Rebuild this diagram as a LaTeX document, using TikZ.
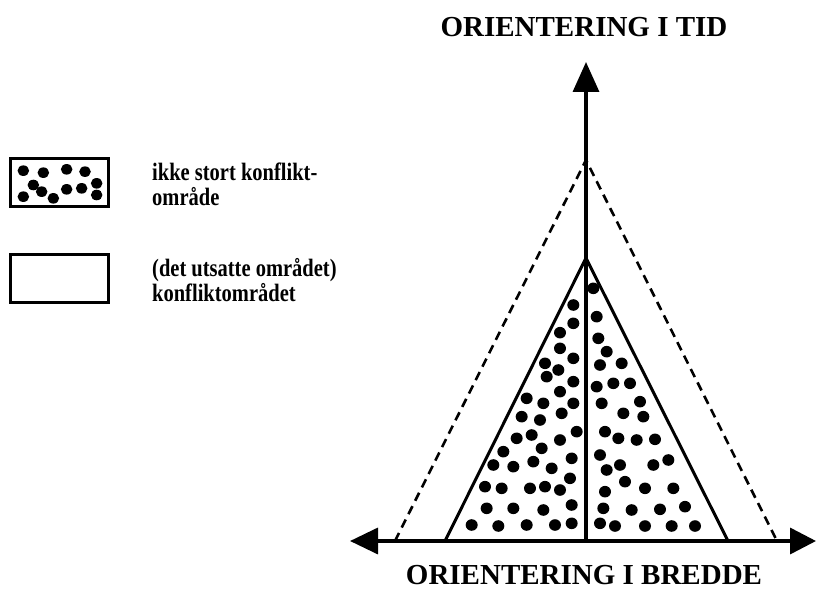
\documentclass[tikz,border=0pt]{standalone}
\usepackage{fontspec}
\setmainfont{Liberation Serif}
\newfontfamily\legfont[FakeStretch=0.82]{Liberation Serif}
\usetikzlibrary{arrows.meta}
\tikzset{
  axis/.style={line width=3.5pt,-{Triangle[length=30pt,width=26pt]}},
  axisboth/.style={line width=3.5pt,{Triangle[length=28pt,width=26pt]}-{Triangle[length=26pt,width=26pt]}},
  inner/.style={line width=3pt,line join=round},
  outer/.style={line width=2.6pt,dash pattern=on 9pt off 6pt},
  dot/.style={fill=black},
  legbox/.style={draw,line width=3pt,minimum width=98pt,minimum height=48pt,inner sep=0pt},
  axlabel/.style={font=\fontsize{29}{32}\selectfont\bfseries,inner sep=0pt,anchor=base},
  leglabel/.style={font=\fontsize{25}{25}\legfont\bfseries,align=left,inner sep=0pt,anchor=north west}
}
\begin{document}
\begin{tikzpicture}[x=1pt,y=-1pt]
\useasboundingbox (0,0) rectangle (816,591);
% axes
\coordinate (O) at (586,541);
\coordinate (T) at (586,62);
\coordinate (L) at (350,541);
\coordinate (R) at (816,541);
\draw[axis] (O) -- (T);
\draw[axisboth] (L) -- (R);
% dashed triangle
\coordinate (DA) at (586,160);
\coordinate (DL) at (395,541);
\coordinate (DR) at (777,541);
\draw[outer] (DL) -- (DA) -- (DR);
% inner triangle
\coordinate (IA) at (586,258);
\coordinate (IL) at (445,541);
\coordinate (IR) at (728,541);
\draw[inner] (IL) -- (IA) -- (IR);
% dots
\foreach \x/\y in {700/195,700/250,660/278,660/325,700/355,615/370,655/390,620/410,700/425,660/455,560/475,610/490,700/490,545/530,600/540,665/520,710/575,575/585,530/595,660/600,490/635,605/625,695/655,460/675,520/680,580/665,635/685,690/715,435/740,485/745,570/745,615/740,660/750,440/805,520/805,610/810,695/795,395/855,475/858,560/855,645/855,695/850,
760/145,770/230,775/295,800/335,780/375,845/370,770/440,820/430,870/430,785/490,900/485,850/520,910/530,795/575,835/595,890/600,945/598,780/645,800/690,840/675,940/675,985/660,855/725,795/755,915/745,1000/745,790/805,875/810,960/808,1035/800,780/850,825/858,915/858,995/858,1065/858}
  \fill[dot] ({340+\x/3},{240+\y/3}) ellipse [x radius=6pt,y radius=5.8pt];
% labels
\node[axlabel] (ttid) at (584,37) {ORIENTERING I TID};
\node[axlabel] (tbredde) at (584,584) {ORIENTERING I BREDDE};
% legend
\node[legbox] (box1) at (59,182) {};
\node[legbox] (box2) at (59,278) {};
\foreach \x/\y in {70/122,130/128,200/118,255/125,100/165,125/185,200/178,245/175,290/160,70/200,160/205,290/195}
  \fill[dot] ({\x/3},{130+\y/3}) ellipse [x radius=5.8pt,y radius=5.3pt];
\node[leglabel] (l1) at (152,163) {ikke stort konflikt-\\område};
\node[leglabel] (l2) at (152,258) {(det utsatte området)\\konfliktområdet};
\end{tikzpicture}
\end{document}
